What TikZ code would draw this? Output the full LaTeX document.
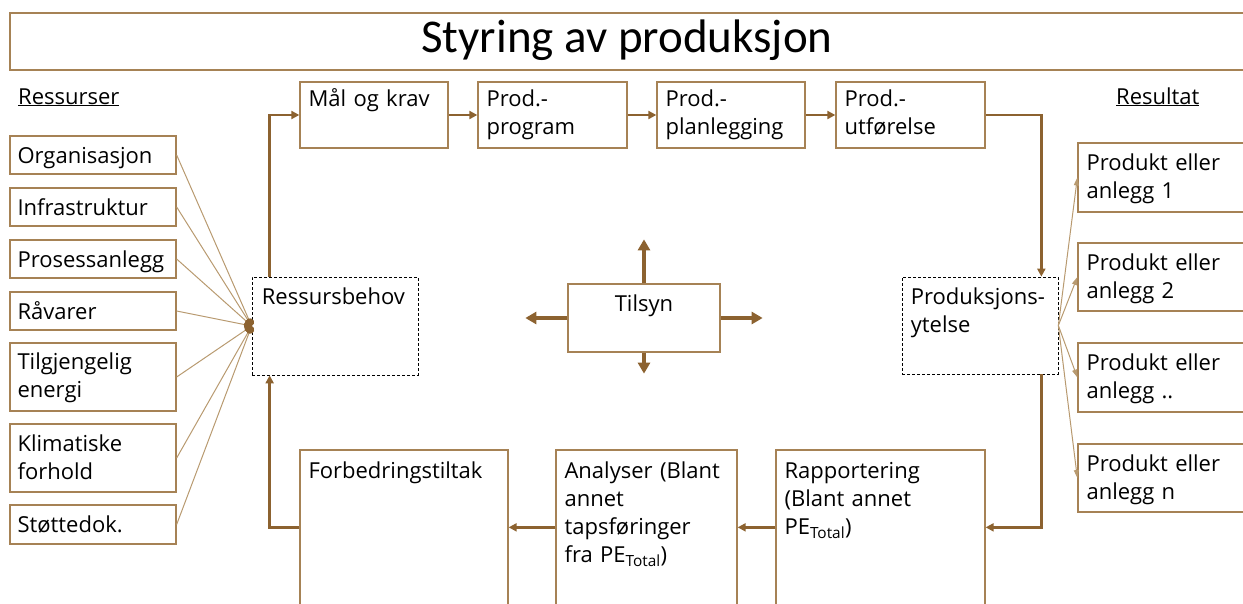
\documentclass[tikz,border=0pt]{standalone}
\usepackage{fontspec}
\setmainfont{Open Sans}
\newfontfamily\titlefont{Carlito}
\usetikzlibrary{arrows.meta,fit,calc}
\definecolor{brownA}{HTML}{8C6230}
\definecolor{brownB}{HTML}{A68255}
\definecolor{brownC}{HTML}{B89A70}
\begin{document}
\begin{tikzpicture}[x=1pt,y=-1pt,font=\fontsize{22}{28}\selectfont,
  box/.style={draw=brownB,line width=1.3pt,inner sep=0pt,fill=white},
  dbox/.style={draw=black,line width=0.7pt,dash pattern=on 3pt off 2pt,inner sep=0pt,fill=white},
  txt/.style={anchor=base west,inner sep=0pt,align=left,text width=220pt},
  conn/.style={draw=brownA,line width=2.6pt,-{Triangle[length=8pt,width=8pt]}},
  plain/.style={draw=brownA,line width=2.6pt},
  tarrow/.style={draw=brownA,line width=3.5pt,-{Triangle[length=11pt,width=12pt]}},
  thin/.style={draw=brownC,line width=1pt},
  thinarrow/.style={draw=brownC,line width=1pt,-{Triangle[length=8pt,width=5pt]}}
]
\useasboundingbox (0,0) rectangle (1243,603);
\clip (0,0) rectangle (1243,603);

% title
\node[box,draw=brownB,fit={(10,13)(1262,70)}] (title) {};
\node[anchor=base,inner sep=0pt,font=\titlefont\fontsize{47}{50}\selectfont] (titletext) at (627,52) {Styring av produksjon};

% headers
\node[txt] (ressurser) at (18,104) {\underline{Ressurser}};
\node[txt] (resultat) at (1116,104) {\underline{Resultat}};

% left resource boxes
\node[box,fit={(10,136)(176,174)},label={[txt,xshift=8,yshift=-28]north west:Organisasjon}] (org) {};
\node[box,fit={(10,188)(176,226)},label={[txt,xshift=8,yshift=-28]north west:Infrastruktur}] (infra) {};
\node[box,fit={(10,240)(176,278)},label={[txt,xshift=8,yshift=-28]north west:Prosessanlegg}] (pros) {};
\node[box,fit={(10,292)(176,330)},label={[txt,xshift=8,yshift=-28]north west:Råvarer}] (rav) {};
\node[box,fit={(10,343)(176,411)},label={[txt,xshift=8,yshift=-27]north west:Tilgjengelig\\energi}] (energi) {};
\node[box,fit={(10,424)(176,492)},label={[txt,xshift=8,yshift=-28]north west:Klimatiske\\forhold}] (klima) {};
\node[box,fit={(10,505)(176,544)},label={[txt,xshift=8,yshift=-28]north west:Støttedok.}] (stotte) {};

% dashed boxes
\node[dbox,fit={(252,277)(418,375)},label={[txt,xshift=10,yshift=-28]north west:Ressursbehov}] (ressurs) {};
\node[dbox,fit={(902,277)(1058,374)},label={[txt,xshift=9,yshift=-28]north west:Produksjons-\\ytelse}] (prodyt) {};

% top row
\node[box,fit={(300,82)(448,148)},label={[txt,xshift=9,yshift=-25]north west:Mål og krav}] (mal) {};
\node[box,fit={(478,82)(627,148)},label={[txt,xshift=9,yshift=-25]north west:Prod.-\\program}] (prog) {};
\node[box,fit={(657,82)(805,148)},label={[txt,xshift=9,yshift=-25]north west:Prod.-\\planlegging}] (plan) {};
\node[box,fit={(836,82)(985,148)},label={[txt,xshift=9,yshift=-25]north west:Prod.-\\utførelse}] (utf) {};

% Tilsyn
\node[box,fit={(568,284)(720,352)},label={[anchor=base,inner sep=0pt,yshift=-28]north:Tilsyn}] (tilsyn) {};

% result boxes
\node[box,fit={(1078,143)(1262,212)},label={[txt,xshift=9,yshift=-28]north west:Produkt eller\\anlegg 1}] (r1) {};
\node[box,fit={(1078,243)(1262,311)},label={[txt,xshift=9,yshift=-28]north west:Produkt eller\\anlegg 2}] (r2) {};
\node[box,fit={(1078,343)(1262,412)},label={[txt,xshift=9,yshift=-28]north west:Produkt eller\\anlegg ..}] (r3) {};
\node[box,fit={(1078,444)(1262,512)},label={[txt,xshift=9,yshift=-28]north west:Produkt eller\\anlegg n}] (r4) {};

% bottom row
\node[box,fit={(300,450)(508,620)},label={[txt,xshift=9,yshift=-29]north west:Forbedringstiltak}] (forb) {};
\node[box,fit={(556,450)(737,620)},label={[txt,xshift=9,yshift=-29]north west:Analyser (Blant\\annet\\tapsføringer\\fra PE\textsubscript{Total})}] (anal) {};
\node[box,fit={(776,450)(985,620)},label={[txt,xshift=9,yshift=-29]north west:Rapportering\\(Blant annet\\PE\textsubscript{Total})}] (rapp) {};

% thin resource lines
\foreach \n in {org,infra,pros,rav,energi,klima,stotte}
  \draw[thin,-{Circle[length=8pt,fill=brownA,color=brownA]}] (\n.east) -- (ressurs.west);

% result arrows
\foreach \n in {r1,r2,r3,r4}
  \draw[thinarrow] (prodyt.east) -- (\n.west);

% main loop
\draw[conn] ([xshift=18]ressurs.north west) |- (mal.west);
\draw[conn] (mal.east) -- (prog.west);
\draw[conn] (prog.east) -- (plan.west);
\draw[conn] (plan.east) -- (utf.west);
\draw[conn] (utf.east) -| ([xshift=-17]prodyt.north east);
\draw[conn] ([xshift=-17]prodyt.south east) |- ([yshift=-78]rapp.north east);
\draw[conn] ([yshift=-78]rapp.north west) -- ([yshift=-78]anal.north east);
\draw[conn] ([yshift=-78]anal.north west) -- ([yshift=-78]forb.north east);
\draw[conn] ([yshift=-78]forb.north west) -| ([xshift=18]ressurs.south west);

% Tilsyn arrows
\draw[tarrow] (tilsyn.north) -- ++(0,-44);
\draw[tarrow] (tilsyn.south) -- ++(0,21);
\draw[tarrow] (tilsyn.west) -- ++(-42,0);
\draw[tarrow] (tilsyn.east) -- ++(42,0);
\end{tikzpicture}
\end{document}
